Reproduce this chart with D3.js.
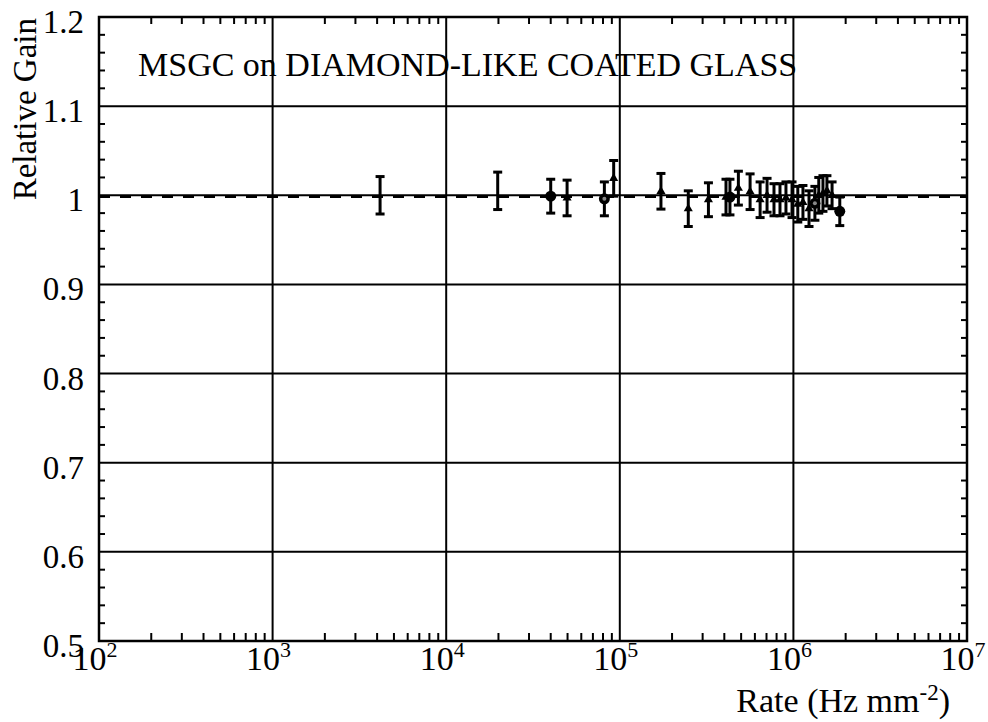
<!DOCTYPE html>
<html>
<head>
<meta charset="utf-8">
<script src="https://cdn.jsdelivr.net/npm/d3@7"></script>
<style>
  body { margin: 0; background: #fff; }
  text { font-family: "Liberation Serif", "Times New Roman", serif; fill: #000; }
</style>
</head>
<body>
<svg id="chart" width="988" height="722"></svg>
<script>
// measured points: rate (Hz mm-2), relative gain, error, marker type
var rates  = [4160, 19800, 40000, 49700, 81500, 92200, 172600, 248000, 324000, 409000, 431000, 482000, 563000,
              643000, 705000, 773000, 837000, 906000, 982000, 1060000, 1135000, 1230000, 1330000, 1400000, 1480000, 1560000, 1670000, 1850000]
var gains  = [1.0, 1.005, 0.999, 0.997, 0.996, 1.019, 1.0045, 0.985, 0.995, 0.998, 0.998, 1.008, 1.004,
              0.995, 1.0, 0.995, 0.995, 0.997, 0.995, 0.99, 0.992, 0.985, 0.991, 1.0, 1.002, 1.005, 1.0, 0.982]
var errs   = [0.021, 0.021, 0.019, 0.02, 0.019, 0.02, 0.02, 0.02, 0.019, 0.02, 0.02, 0.019, 0.02,
              0.02, 0.019, 0.018, 0.018, 0.018, 0.02, 0.02, 0.019, 0.02, 0.019, 0.02, 0.02, 0.017, 0.015, 0.016]
var marks  = ['none', 'none', 'circle', 'tri', 'ocircle', 'tri', 'tri', 'tri', 'tri', 'tri', 'circle', 'tri', 'tri',
              'tri', 'tri', 'tri', 'tri', 'tri', 'tri', 'tri', 'tri', 'tri', 'ocircle', 'tri', 'tri', 'tri', 'tri', 'circle']

var yTicks = [0.5, 0.6, 0.7, 0.8, 0.9, 1, 1.1, 1.2]
var xDecades = [2, 3, 4, 5, 6, 7]
var title = "MSGC on DIAMOND-LIKE COATED GLASS"
var fitGain = 1.0

var svg = d3.select("#chart"),
    pL = 99, pR = 967, pT = 17, pB = 641

var x = d3.scaleLog().domain([1e2, 1e7]).range([pL, pR]),
    y = d3.scaleLinear().domain([0.5, 1.2]).range([pB, pT])

var data = rates.map(function(r, i) { return {r: r, g: gains[i], e: errs[i], m: marks[i]} })

// title goes under the grid lines
svg.append("text")
  .attr("x", 138).attr("y", 76)
  .style("font-size", "34px")
  .text(title)

// grid
svg.append("g").selectAll("line.v")
  .data(xDecades.slice(1, -1))
  .enter().append("line")
  .attr("x1", d => x(Math.pow(10, d))).attr("x2", d => x(Math.pow(10, d)))
  .attr("y1", pT).attr("y2", pB)
  .attr("stroke", "#000").attr("stroke-width", 2)
svg.append("g").selectAll("line.h")
  .data(yTicks.slice(1, -1))
  .enter().append("line")
  .attr("x1", pL).attr("x2", pR)
  .attr("y1", d => y(d)).attr("y2", d => y(d))
  .attr("stroke", "#000").attr("stroke-width", 2)

// minor ticks
var minorX = []
xDecades.slice(0, -1).forEach(function(d) {
  for (var k = 2; k <= 9; k++) minorX.push(k * Math.pow(10, d))
})
var minorY = d3.range(0.52, 1.2, 0.02).filter(v => Math.abs(v * 10 - Math.round(v * 10)) > 0.01)
var tk = svg.append("g").attr("stroke", "#000").attr("stroke-width", 2)
tk.selectAll("line.bx").data(minorX).enter().append("line")
  .attr("x1", d => x(d)).attr("x2", d => x(d)).attr("y1", pB).attr("y2", pB - 8)
tk.selectAll("line.tx").data(minorX).enter().append("line")
  .attr("x1", d => x(d)).attr("x2", d => x(d)).attr("y1", pT).attr("y2", pT + 7)
tk.selectAll("line.ly").data(minorY).enter().append("line")
  .attr("x1", pL).attr("x2", pL + 6).attr("y1", d => y(d)).attr("y2", d => y(d))
tk.selectAll("line.ry").data(minorY).enter().append("line")
  .attr("x1", pR).attr("x2", pR - 6).attr("y1", d => y(d)).attr("y2", d => y(d))

// dashed fit line at 1
svg.append("line")
  .attr("x1", pL).attr("x2", pR)
  .attr("y1", y(fitGain) + 1.5).attr("y2", y(fitGain) + 1.5)
  .attr("stroke", "#000").attr("stroke-width", 2.5)
  .attr("stroke-dasharray", "11,10")

// error bars
var eb = svg.append("g").attr("stroke", "#000").attr("stroke-width", 3)
eb.selectAll("line.bar").data(data).enter().append("line")
  .attr("x1", d => x(d.r)).attr("x2", d => x(d.r))
  .attr("y1", d => y(d.g - d.e)).attr("y2", d => y(d.g + d.e))
eb.selectAll("line.capt").data(data).enter().append("line")
  .attr("x1", d => x(d.r) - 4.5).attr("x2", d => x(d.r) + 4.5)
  .attr("y1", d => y(d.g + d.e)).attr("y2", d => y(d.g + d.e))
eb.selectAll("line.capb").data(data).enter().append("line")
  .attr("x1", d => x(d.r) - 4.5).attr("x2", d => x(d.r) + 4.5)
  .attr("y1", d => y(d.g - d.e)).attr("y2", d => y(d.g - d.e))

// markers
var mk = svg.append("g")
mk.selectAll("path").data(data.filter(d => d.m == 'tri')).enter().append("path")
  .attr("d", d3.symbol().type(d3.symbolTriangle).size(36))
  .attr("transform", d => "translate(" + x(d.r) + "," + y(d.g) + ")")
  .attr("fill", "#000")
mk.selectAll("circle.c").data(data.filter(d => d.m == 'circle' || d.m == 'ocircle')).enter().append("circle")
  .attr("cx", d => x(d.r)).attr("cy", d => y(d.g)).attr("r", 5.5)
  .attr("fill", "#000")
mk.selectAll("circle.o").data(data.filter(d => d.m == 'ocircle')).enter().append("circle")
  .attr("cx", d => x(d.r)).attr("cy", d => y(d.g)).attr("r", 2)
  .attr("fill", "#888")

// frame
svg.append("rect")
  .attr("x", pL).attr("y", pT).attr("width", pR - pL).attr("height", pB - pT)
  .attr("fill", "none").attr("stroke", "#000").attr("stroke-width", 2.5)

// y labels
svg.append("g").selectAll("text").data(yTicks).enter().append("text")
  .attr("x", 84).attr("y", d => y(d) + 16)
  .attr("text-anchor", "end")
  .style("font-size", "33px")
  .text(d => d == 1 ? "1" : d.toFixed(1))

// x labels 10^n
var xl = svg.append("g").selectAll("text").data(xDecades).enter().append("text")
  .attr("x", d => x(Math.pow(10, d)) - 4).attr("y", 670)
  .attr("text-anchor", "middle")
  .style("font-size", "34px")
xl.append("tspan").text("10")
xl.append("tspan").attr("dy", -13).style("font-size", "22px").text(d => d)

// axis titles
var xt = svg.append("text")
  .attr("x", 950).attr("y", 712)
  .attr("text-anchor", "end")
  .style("font-size", "34px")
xt.append("tspan").text("Rate (Hz mm")
xt.append("tspan").attr("dy", -12).style("font-size", "23px").text("-2")
xt.append("tspan").attr("dy", 12).text(")")

svg.append("text")
  .attr("transform", "translate(36,18) rotate(-90)")
  .attr("text-anchor", "end")
  .style("font-size", "33px")
  .text("Relative Gain")
</script>
</body>
</html>
